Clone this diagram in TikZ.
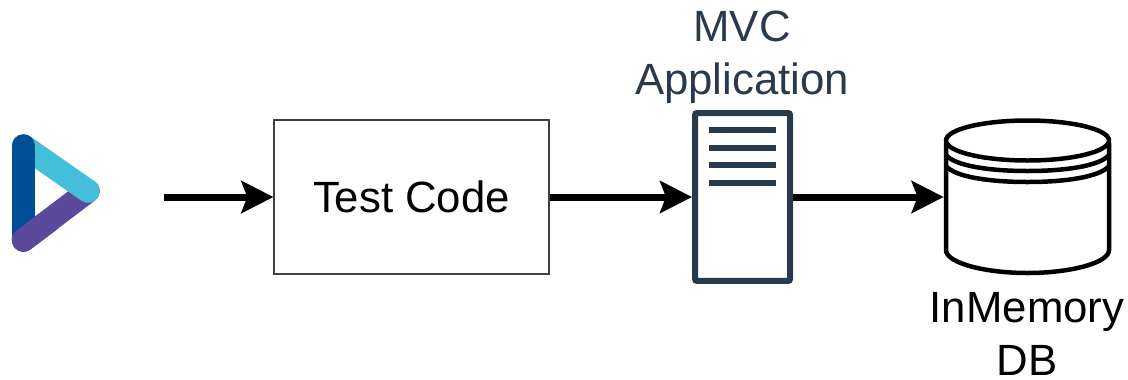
\documentclass[tikz,border=0pt]{standalone}
\usepackage{fontspec}
\setmainfont{Liberation Sans}
\usetikzlibrary{arrows.meta}

\definecolor{logoblue}{HTML}{004E96}
\definecolor{logocyan}{HTML}{45BEDC}
\definecolor{logopurple}{HTML}{5B4A9B}
\definecolor{serverink}{HTML}{2A3A4D}

\tikzset{
    flow/.style={line width=0.14cm,-{Stealth[length=0.64cm,width=0.64cm,inset=0.12cm]}},
    band/.style={line width=0.47cm,line cap=round},
    caption/.style={align=center,inner sep=0pt,font=\fontsize{24.9}{30}\selectfont},
    dbline/.style={line width=0.09cm,line join=round}
}

\begin{document}
\begin{tikzpicture}[x=0.02cm,y=-0.02cm]
        \useasboundingbox (0,0) rectangle (1128,379);

        % logo
        \draw [band,logopurple] (88,191) -- (23.5,240);
        \draw [band,logocyan] (23.5,146) -- (88,191);
        \draw [band,logoblue] (23.5,146) -- (23.5,240);
        \draw [band,logopurple] (23.5,240) -- (50,220);

        \coordinate (start) at (164,197);
        \node[shape=rectangle,draw=black!75,line width=0.025cm,minimum width=5.5cm,minimum height=3.08cm,caption] (test) at (411.5,197) {Test Code};
        \node[shape=rectangle,draw=serverink,line width=0.12cm,rounded corners=0.04cm,minimum width=1.9cm,minimum height=3.36cm] (server) at (742.5,197) {};
        \node[shape=rectangle,inner sep=0pt,minimum width=3.34cm,minimum height=3.14cm] (db) at (1027.5,197) {};

        \node[caption,text=serverink] (mvc) at (742,57) {MVC\\Application};
        \node[caption] (memory) at (1027,334) {InMemory\\DB};

        % server lines
        \foreach \y in {130,147.5,165,182.5}
            \draw [serverink,line width=0.12cm] (709,\y) -- (776,\y);

        % cylinder
        \draw [dbline] (946,143) -- (946,250) .. controls (946,263) and (985,273) .. (1027.5,273) .. controls (1070,273) and (1109,263) .. (1109,250) -- (1109,143);
        \draw [dbline] (1027.5,140.5) ellipse [x radius=81.5,y radius=20];
        \foreach \y in {171,182}
            \draw [dbline] (946,\y-16) .. controls (955,\y-5) and (990,\y) .. (1027.5,\y) .. controls (1065,\y) and (1100,\y-5) .. (1109,\y-16);

        \path [flow](start) edge (test);
        \path [flow](test) edge (server);
        \path [flow](server) edge (db);
    \end{tikzpicture}
\end{document}
